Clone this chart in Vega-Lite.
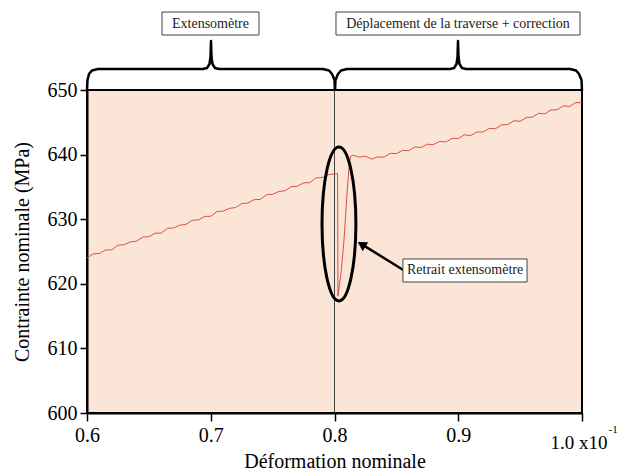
{
  "$schema": "https://vega.github.io/schema/vega-lite/v6.json",
  "width": 495,
  "height": 323,
  "autosize": {"type": "none"},
  "padding": {"left": 87, "top": 90, "right": 37, "bottom": 60},
  "background": "white",
  "config": {
    "font": "Liberation Serif",
    "text": {"font": "Liberation Serif"},
    "view": {"fill": "#fbe5d6", "stroke": "black", "strokeWidth": 2},
    "axis": {
      "grid": false,
      "domainColor": "black",
      "domainWidth": 2,
      "tickColor": "black",
      "tickWidth": 1.5,
      "labelColor": "black",
      "labelFontSize": 20,
      "labelFont": "Liberation Serif",
      "titleFont": "Liberation Serif",
      "titleFontSize": 20,
      "titleFontWeight": "normal",
      "titleColor": "black",
      "labelFlush": false,
      "labelOverlap": false
    }
  },
  "datasets": {
    "curve": [
      {"x": 0.600, "y": 624.00}, {"x": 0.605, "y": 624.63}, {"x": 0.610, "y": 624.70}, {"x": 0.615, "y": 625.23},
      {"x": 0.620, "y": 625.25}, {"x": 0.625, "y": 625.98}, {"x": 0.630, "y": 626.05}, {"x": 0.635, "y": 626.48},
      {"x": 0.640, "y": 626.60}, {"x": 0.645, "y": 627.23}, {"x": 0.650, "y": 627.30}, {"x": 0.655, "y": 627.83},
      {"x": 0.660, "y": 627.85}, {"x": 0.665, "y": 628.58}, {"x": 0.670, "y": 628.65}, {"x": 0.675, "y": 629.08},
      {"x": 0.680, "y": 629.20}, {"x": 0.685, "y": 629.83}, {"x": 0.690, "y": 629.90}, {"x": 0.695, "y": 630.43},
      {"x": 0.700, "y": 630.45}, {"x": 0.705, "y": 631.18}, {"x": 0.710, "y": 631.25}, {"x": 0.715, "y": 631.68},
      {"x": 0.720, "y": 631.80}, {"x": 0.725, "y": 632.43}, {"x": 0.730, "y": 632.50}, {"x": 0.735, "y": 633.03},
      {"x": 0.740, "y": 633.05}, {"x": 0.745, "y": 633.78}, {"x": 0.750, "y": 633.85}, {"x": 0.755, "y": 634.28},
      {"x": 0.760, "y": 634.40}, {"x": 0.765, "y": 635.03}, {"x": 0.770, "y": 635.10}, {"x": 0.775, "y": 635.63},
      {"x": 0.780, "y": 635.65}, {"x": 0.785, "y": 636.38}, {"x": 0.790, "y": 636.45}, {"x": 0.795, "y": 636.88},
      {"x": 0.800, "y": 637.00}, {"x": 0.8025, "y": 637.05}, {"x": 0.8028, "y": 618.1}, {"x": 0.8053, "y": 621.7},
      {"x": 0.8077, "y": 626.8}, {"x": 0.8103, "y": 634.5}, {"x": 0.8120, "y": 638.65}, {"x": 0.8131, "y": 639.7},
      {"x": 0.815, "y": 639.90}, {"x": 0.820, "y": 639.60}, {"x": 0.825, "y": 639.75}, {"x": 0.830, "y": 639.30},
      {"x": 0.835, "y": 639.65}, {"x": 0.840, "y": 639.60}, {"x": 0.845, "y": 640.20}, {"x": 0.850, "y": 640.15},
      {"x": 0.855, "y": 640.65}, {"x": 0.860, "y": 640.60}, {"x": 0.865, "y": 641.20}, {"x": 0.870, "y": 641.10},
      {"x": 0.875, "y": 641.60}, {"x": 0.880, "y": 641.55}, {"x": 0.885, "y": 642.05}, {"x": 0.890, "y": 641.95},
      {"x": 0.895, "y": 642.50}, {"x": 0.900, "y": 642.50}, {"x": 0.905, "y": 643.05}, {"x": 0.910, "y": 642.95},
      {"x": 0.915, "y": 643.50}, {"x": 0.920, "y": 643.50}, {"x": 0.925, "y": 644.05}, {"x": 0.930, "y": 644.00},
      {"x": 0.935, "y": 644.60}, {"x": 0.940, "y": 644.65}, {"x": 0.945, "y": 645.25}, {"x": 0.950, "y": 645.15},
      {"x": 0.955, "y": 645.75}, {"x": 0.960, "y": 645.80}, {"x": 0.965, "y": 646.40}, {"x": 0.970, "y": 646.30},
      {"x": 0.975, "y": 646.90}, {"x": 0.980, "y": 646.95}, {"x": 0.985, "y": 647.55}, {"x": 0.990, "y": 647.45},
      {"x": 0.995, "y": 648.05}, {"x": 1.000, "y": 648.05}
    ],
    "braces": [
      {"b": "A", "i": 0, "x": 0.6, "y": 650}, {"b": "A", "i": 1, "x": 0.6004, "y": 651.55},
      {"b": "A", "i": 2, "x": 0.6016, "y": 652.48}, {"b": "A", "i": 3, "x": 0.6040, "y": 653.02},
      {"b": "A", "i": 4, "x": 0.6089, "y": 653.25}, {"b": "A", "i": 5, "x": 0.6937, "y": 653.25},
      {"b": "A", "i": 6, "x": 0.6970, "y": 653.41}, {"b": "A", "i": 7, "x": 0.6990, "y": 654.02},
      {"b": "A", "i": 8, "x": 0.6998, "y": 655.11}, {"b": "A", "i": 9, "x": 0.7002, "y": 657.59},
      {"b": "A", "i": 10, "x": 0.7006, "y": 655.11}, {"b": "A", "i": 11, "x": 0.7014, "y": 654.02},
      {"b": "A", "i": 12, "x": 0.7034, "y": 653.41}, {"b": "A", "i": 13, "x": 0.7067, "y": 653.25},
      {"b": "A", "i": 14, "x": 0.7907, "y": 653.25}, {"b": "A", "i": 15, "x": 0.7956, "y": 653.02},
      {"b": "A", "i": 16, "x": 0.7980, "y": 652.48}, {"b": "A", "i": 17, "x": 0.8000, "y": 651.55},
      {"b": "A", "i": 18, "x": 0.8004, "y": 650},
      {"b": "B", "i": 0, "x": 0.8004, "y": 650}, {"b": "B", "i": 1, "x": 0.8008, "y": 651.55},
      {"b": "B", "i": 2, "x": 0.8028, "y": 652.48}, {"b": "B", "i": 3, "x": 0.8053, "y": 653.02},
      {"b": "B", "i": 4, "x": 0.8101, "y": 653.25}, {"b": "B", "i": 5, "x": 0.8933, "y": 653.25},
      {"b": "B", "i": 6, "x": 0.8966, "y": 653.41}, {"b": "B", "i": 7, "x": 0.8986, "y": 654.02},
      {"b": "B", "i": 8, "x": 0.8994, "y": 655.11}, {"b": "B", "i": 9, "x": 0.8998, "y": 657.59},
      {"b": "B", "i": 10, "x": 0.9002, "y": 655.11}, {"b": "B", "i": 11, "x": 0.9010, "y": 654.02},
      {"b": "B", "i": 12, "x": 0.9030, "y": 653.41}, {"b": "B", "i": 13, "x": 0.9063, "y": 653.25},
      {"b": "B", "i": 14, "x": 0.9903, "y": 653.25}, {"b": "B", "i": 15, "x": 0.9952, "y": 653.02},
      {"b": "B", "i": 16, "x": 0.9976, "y": 652.48}, {"b": "B", "i": 17, "x": 0.9996, "y": 651.55},
      {"b": "B", "i": 18, "x": 1.0, "y": 650}
    ],
    "boxes": [
      {"x": 0.6606, "x2": 0.7390, "y": 662.07, "y2": 658.51},
      {"x": 0.8012, "x2": 0.9984, "y": 662.07, "y2": 658.51},
      {"x": 0.8553, "x2": 0.9556, "y": 623.84, "y2": 620.28}
    ],
    "labels": [
      {"x": 0.6998, "y": 660.29, "label": "Extensomètre"},
      {"x": 0.8998, "y": 660.29, "label": "Déplacement de la traverse + correction"},
      {"x": 0.9055, "y": 622.06, "label": "Retrait extensomètre"}
    ]
  },
  "encoding": {
    "x": {
      "field": "x",
      "type": "quantitative",
      "scale": {"domain": [0.6, 1.0], "nice": false, "zero": false},
      "axis": {
        "values": [0.6, 0.7, 0.8, 0.9, 1.0],
        "labelExpr": "datum.value > 0.95 ? '' : format(datum.value, '.1f')",
        "tickSize": 8,
        "labelPadding": 4,
        "titlePadding": 6
      },
      "title": "Déformation nominale"
    },
    "y": {
      "field": "y",
      "type": "quantitative",
      "scale": {"domain": [600, 650], "nice": false, "zero": false},
      "axis": {
        "values": [600, 610, 620, 630, 640, 650],
        "tickSize": 7,
        "labelPadding": 3,
        "titlePadding": 15
      },
      "title": "Contrainte nominale (MPa)"
    }
  },
  "layer": [
    {
      "data": {"values": [{"x": 0.8, "y": 600, "y2": 650}]},
      "mark": {"type": "rule", "color": "#444444", "strokeWidth": 1},
      "encoding": {"y2": {"field": "y2"}}
    },
    {
      "data": {"name": "curve"},
      "mark": {"type": "line", "color": "#dc4f43", "strokeWidth": 1, "clip": false}
    },
    {
      "data": {"values": [{"x": 0.8036, "y": 629.26}]},
      "mark": {
        "type": "point",
        "shape": "M -0.22 0 A 0.22 1 0 1 1 0.22 0 A 0.22 1 0 1 1 -0.22 0 Z",
        "size": 23716,
        "filled": false,
        "stroke": "black",
        "strokeWidth": 3,
        "opacity": 1
      }
    },
    {
      "data": {"values": [{"x": 0.8556, "y": 622.14, "x2": 0.8205, "y2": 626.3}]},
      "mark": {"type": "rule", "color": "black", "strokeWidth": 2.5},
      "encoding": {"x2": {"field": "x2"}, "y2": {"field": "y2"}}
    },
    {
      "data": {"values": [{"x": 0.8219, "y": 626.11}]},
      "mark": {"type": "point", "shape": "triangle-up", "angle": 301.6, "size": 110, "filled": true, "color": "black", "opacity": 1}
    },
    {
      "data": {"name": "boxes"},
      "mark": {"type": "rect", "fill": "white", "stroke": "#444444", "strokeWidth": 1},
      "encoding": {"x2": {"field": "x2"}, "y2": {"field": "y2"}}
    },
    {
      "data": {"name": "labels"},
      "mark": {"type": "text", "font": "Liberation Serif", "fontSize": 14, "color": "#222222", "align": "center", "baseline": "middle"},
      "encoding": {"text": {"field": "label"}}
    },
    {
      "data": {"name": "braces"},
      "mark": {"type": "line", "color": "black", "strokeWidth": 2.5, "strokeJoin": "round"},
      "encoding": {"detail": {"field": "b"}, "order": {"field": "i", "type": "quantitative"}}
    },
    {
      "data": {"values": [{"x": 0.9975, "y": 595.36, "label": "1.0 x10"}]},
      "mark": {"type": "text", "font": "Liberation Serif", "fontSize": 19, "color": "black", "align": "center", "baseline": "middle"},
      "encoding": {"text": {"field": "label"}}
    },
    {
      "data": {"values": [{"x": 1.0215, "y": 597.4, "label": "-1"}]},
      "mark": {"type": "text", "font": "Liberation Serif", "fontSize": 11, "color": "black", "align": "left", "baseline": "middle"},
      "encoding": {"text": {"field": "label"}}
    }
  ]
}
